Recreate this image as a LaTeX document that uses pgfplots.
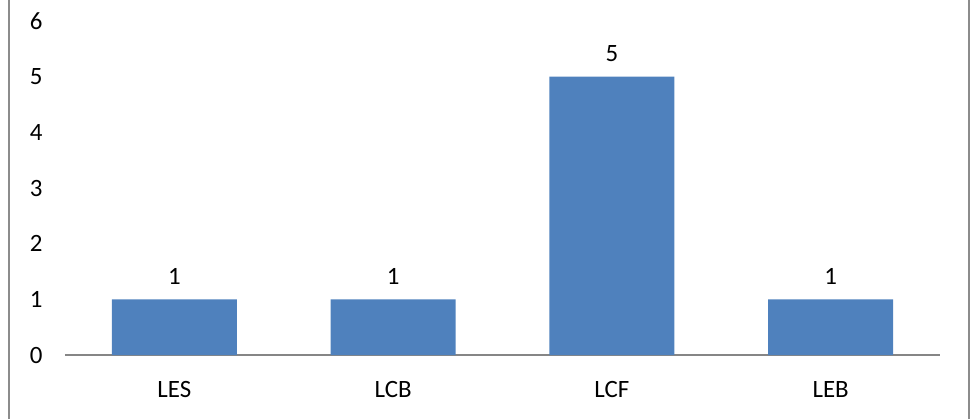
\documentclass[border=0pt]{standalone}
\usepackage{pgfplots}
\pgfplotsset{compat=1.18}
\usepackage{fontspec}
\setmainfont{Carlito}
\definecolor{barblue}{RGB}{79,129,189}
\definecolor{axisgray}{RGB}{134,134,134}
\definecolor{framegray}{RGB}{140,140,140}

\begin{document}
\begin{tikzpicture}[x=1bp,y=1bp]
\useasboundingbox (-65,-64) rectangle (911,355);
\begin{axis}[
    at={(0,0)}, anchor=south west,
    scale only axis, width=875bp, height=334bp,
    ybar, bar width=125bp,
    xmin=-0.5, xmax=3.5, ymin=0, ymax=6,
    xtick=data, xticklabels={LES,LCB,LCF,LEB},
    ytick={0,1,2,3,4,5,6},
    separate axis lines,
    axis x line*=bottom, axis y line*=left,
    x axis line style={draw=axisgray, line width=1.5bp, -},
    y axis line style={draw=none},
    major tick length=0pt,
    /pgf/number format/assume math mode=true,
    tick label style={font=\fontsize{25}{30}\selectfont, text=black},
    yticklabel style={xshift=-19bp},
    xticklabel style={yshift=-23bp},
    nodes near coords,
    every node near coord/.append style={font=\fontsize{25}{30}\selectfont, text=black, yshift=11bp},
]
\addplot[fill=barblue, draw=none] coordinates {(0,1) (1,1) (2,5) (3,1)};
\end{axis}
\draw[framegray, line width=2bp] (-56,-64) -- (-56,355);
\draw[framegray, line width=2bp] (904,-64) -- (904,355);
\end{tikzpicture}
\end{document}
